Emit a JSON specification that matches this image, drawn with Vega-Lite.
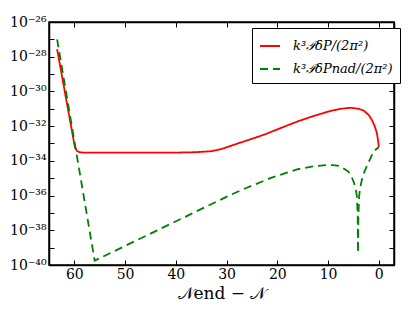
{
  "$schema": "https://vega.github.io/schema/vega-lite/v6.json",
  "width": 345,
  "height": 243,
  "autosize": "none",
  "padding": {"left": 49, "top": 22, "right": 21, "bottom": 47},
  "background": "white",
  "config": {
    "view": {"stroke": "black", "strokeWidth": 1.5},
    "axis": {
      "labelFont": "DejaVu Serif",
      "titleFont": "DejaVu Serif",
      "labelColor": "black",
      "titleColor": "black",
      "domainColor": "black",
      "tickColor": "black",
      "domainWidth": 1.5,
      "tickWidth": 1,
      "grid": false,
      "labelFontSize": 14,
      "titleFontWeight": "normal"
    }
  },
  "data": {
    "values": [
      {"x": 63.4, "y": 2.69e-28, "series": "k³𝒫δP/(2π²)"},
      {"x": 62.5, "y": 9.55e-30, "series": "k³𝒫δP/(2π²)"},
      {"x": 61.5, "y": 2.34e-31, "series": "k³𝒫δP/(2π²)"},
      {"x": 60.5, "y": 5.75e-33, "series": "k³𝒫δP/(2π²)"},
      {"x": 59.9, "y": 6.31e-34, "series": "k³𝒫δP/(2π²)"},
      {"x": 59.5, "y": 3.80e-34, "series": "k³𝒫δP/(2π²)"},
      {"x": 59.0, "y": 3.16e-34, "series": "k³𝒫δP/(2π²)"},
      {"x": 58.0, "y": 2.95e-34, "series": "k³𝒫δP/(2π²)"},
      {"x": 50.0, "y": 2.95e-34, "series": "k³𝒫δP/(2π²)"},
      {"x": 40.0, "y": 2.98e-34, "series": "k³𝒫δP/(2π²)"},
      {"x": 36.0, "y": 3.16e-34, "series": "k³𝒫δP/(2π²)"},
      {"x": 33.0, "y": 3.60e-34, "series": "k³𝒫δP/(2π²)"},
      {"x": 31.0, "y": 4.80e-34, "series": "k³𝒫δP/(2π²)"},
      {"x": 29.0, "y": 7.59e-34, "series": "k³𝒫δP/(2π²)"},
      {"x": 27.0, "y": 1.20e-33, "series": "k³𝒫δP/(2π²)"},
      {"x": 25.0, "y": 1.86e-33, "series": "k³𝒫δP/(2π²)"},
      {"x": 22.7, "y": 3.16e-33, "series": "k³𝒫δP/(2π²)"},
      {"x": 19.5, "y": 7.41e-33, "series": "k³𝒫δP/(2π²)"},
      {"x": 16.1, "y": 1.82e-32, "series": "k³𝒫δP/(2π²)"},
      {"x": 13.0, "y": 3.72e-32, "series": "k³𝒫δP/(2π²)"},
      {"x": 9.6, "y": 7.41e-32, "series": "k³𝒫δP/(2π²)"},
      {"x": 7.5, "y": 1.0e-31, "series": "k³𝒫δP/(2π²)"},
      {"x": 5.6, "y": 1.15e-31, "series": "k³𝒫δP/(2π²)"},
      {"x": 4.0, "y": 1.0e-31, "series": "k³𝒫δP/(2π²)"},
      {"x": 3.0, "y": 7.94e-32, "series": "k³𝒫δP/(2π²)"},
      {"x": 2.0, "y": 4.47e-32, "series": "k³𝒫δP/(2π²)"},
      {"x": 1.35, "y": 2.24e-32, "series": "k³𝒫δP/(2π²)"},
      {"x": 0.8, "y": 1.0e-32, "series": "k³𝒫δP/(2π²)"},
      {"x": 0.37, "y": 3.89e-33, "series": "k³𝒫δP/(2π²)"},
      {"x": 0.1, "y": 1.26e-33, "series": "k³𝒫δP/(2π²)"},
      {"x": 0.0, "y": 6.03e-34, "series": "k³𝒫δP/(2π²)"},
      {"x": 63.4, "y": 1.0e-27, "series": "k³𝒫δPnad/(2π²)"},
      {"x": 56.0, "y": 1.78e-40, "series": "k³𝒫δPnad/(2π²)"},
      {"x": 29.3, "y": 1.07e-36, "series": "k³𝒫δPnad/(2π²)"},
      {"x": 26.0, "y": 2.82e-36, "series": "k³𝒫δPnad/(2π²)"},
      {"x": 21.4, "y": 1.0e-35, "series": "k³𝒫δPnad/(2π²)"},
      {"x": 16.1, "y": 3.24e-35, "series": "k³𝒫δPnad/(2π²)"},
      {"x": 13.0, "y": 4.79e-35, "series": "k³𝒫δPnad/(2π²)"},
      {"x": 10.2, "y": 5.75e-35, "series": "k³𝒫δPnad/(2π²)"},
      {"x": 9.0, "y": 5.75e-35, "series": "k³𝒫δPnad/(2π²)"},
      {"x": 7.6, "y": 5.01e-35, "series": "k³𝒫δPnad/(2π²)"},
      {"x": 6.0, "y": 2.40e-35, "series": "k³𝒫δPnad/(2π²)"},
      {"x": 5.3, "y": 1.12e-35, "series": "k³𝒫δPnad/(2π²)"},
      {"x": 4.84, "y": 5.01e-36, "series": "k³𝒫δPnad/(2π²)"},
      {"x": 4.5, "y": 2.0e-36, "series": "k³𝒫δPnad/(2π²)"},
      {"x": 4.3, "y": 8.71e-37, "series": "k³𝒫δPnad/(2π²)"},
      {"x": 4.15, "y": 6.31e-38, "series": "k³𝒫δPnad/(2π²)"},
      {"x": 4.1, "y": 5.01e-40, "series": "k³𝒫δPnad/(2π²)"},
      {"x": 4.02, "y": 6.31e-38, "series": "k³𝒫δPnad/(2π²)"},
      {"x": 3.9, "y": 6.31e-37, "series": "k³𝒫δPnad/(2π²)"},
      {"x": 3.75, "y": 2.09e-36, "series": "k³𝒫δPnad/(2π²)"},
      {"x": 3.2, "y": 1.26e-35, "series": "k³𝒫δPnad/(2π²)"},
      {"x": 2.7, "y": 2.95e-35, "series": "k³𝒫δPnad/(2π²)"},
      {"x": 1.8, "y": 1.12e-34, "series": "k³𝒫δPnad/(2π²)"},
      {"x": 1.04, "y": 3.39e-34, "series": "k³𝒫δPnad/(2π²)"},
      {"x": 0.4, "y": 5.01e-34, "series": "k³𝒫δPnad/(2π²)"},
      {"x": 0.0, "y": 6.03e-34, "series": "k³𝒫δPnad/(2π²)"}
    ]
  },
  "layer": [
    {
      "mark": {"type": "line", "strokeWidth": 1.8, "clip": true},
      "encoding": {
        "x": {
          "field": "x", "type": "quantitative",
          "scale": {"domain": [-3, 65], "reverse": true, "nice": false, "zero": false},
          "axis": {
            "orient": "bottom",
            "values": [0, 10, 20, 30, 40, 50, 60],
            "tickSize": -5,
            "labelPadding": 7,
            "title": "𝒩end − 𝒩",
            "titleFontSize": 17,
            "titlePadding": 4
          }
        },
        "y": {
          "field": "y", "type": "quantitative",
          "scale": {"type": "log", "domain": [1e-40, 1e-26], "nice": false},
          "axis": {
            "orient": "left",
            "values": [1e-40, 1e-39, 1e-38, 1e-37, 1e-36, 1e-35, 1e-34, 1e-33, 1e-32, 1e-31, 1e-30, 1e-29, 1e-28, 1e-27, 1e-26],
            "tickSize": -5,
            "labelPadding": 8,
            "labelOverlap": false,
            "labelExpr": "(round(log(datum.value)/LN10) % 2 != 0) ? '' : '10⁻' + substring('⁰¹²³⁴⁵⁶⁷⁸⁹', floor(-round(log(datum.value)/LN10)/10), floor(-round(log(datum.value)/LN10)/10)+1) + substring('⁰¹²³⁴⁵⁶⁷⁸⁹', (-round(log(datum.value)/LN10))%10, (-round(log(datum.value)/LN10))%10+1)",
            "title": null
          }
        },
        "color": {
          "field": "series", "type": "nominal",
          "scale": {"domain": ["k³𝒫δP/(2π²)", "k³𝒫δPnad/(2π²)"], "range": ["#ff0000", "#008000"]},
          "legend": {
            "orient": "none", "legendX": 203, "legendY": 6,
            "title": null,
            "strokeColor": "black", "fillColor": "white", "padding": 7,
            "cornerRadius": 0,
            "symbolType": "stroke", "symbolSize": 400, "symbolStrokeWidth": 1.8,
            "labelFont": "DejaVu Serif", "labelFontSize": 13, "labelFontStyle": "italic",
            "labelColor": "black", "labelOffset": 12, "rowPadding": 5
          }
        },
        "strokeDash": {
          "field": "series", "type": "nominal",
          "scale": {"domain": ["k³𝒫δP/(2π²)", "k³𝒫δPnad/(2π²)"], "range": [[1, 0], [8, 5]]},
          "legend": {
            "orient": "none", "legendX": 203, "legendY": 6,
            "title": null,
            "strokeColor": "black", "fillColor": "white", "padding": 7,
            "cornerRadius": 0,
            "symbolType": "stroke", "symbolSize": 400, "symbolStrokeWidth": 1.8,
            "labelFont": "DejaVu Serif", "labelFontSize": 13, "labelFontStyle": "italic",
            "labelColor": "black", "labelOffset": 12, "rowPadding": 5
          }
        }
      }
    },
    {
      "mark": {"type": "line", "opacity": 0},
      "encoding": {
        "x": {
          "field": "x", "type": "quantitative",
          "axis": {"orient": "top", "values": [0, 10, 20, 30, 40, 50, 60], "tickSize": -5, "labels": false, "title": null}
        },
        "y": {
          "field": "y", "type": "quantitative",
          "axis": {
            "orient": "right",
            "values": [1e-40, 1e-39, 1e-38, 1e-37, 1e-36, 1e-35, 1e-34, 1e-33, 1e-32, 1e-31, 1e-30, 1e-29, 1e-28, 1e-27, 1e-26],
            "tickSize": -5, "labels": false, "title": null
          }
        },
        "detail": {"field": "series"}
      }
    }
  ],
  "resolve": {"axis": {"x": "independent", "y": "independent"}}
}
